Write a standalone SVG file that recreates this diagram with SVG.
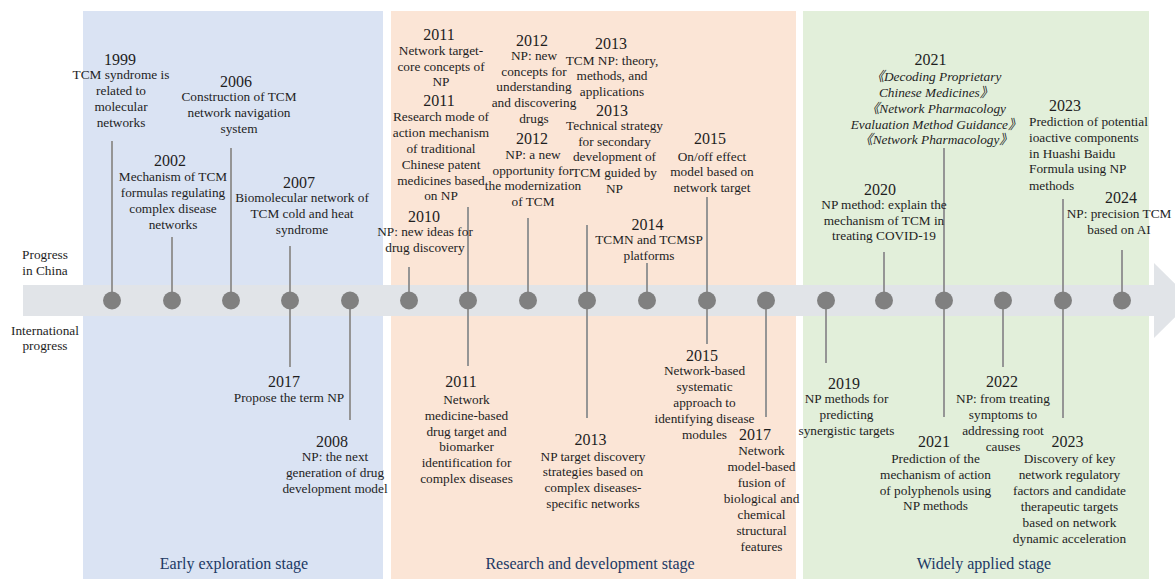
<svg xmlns="http://www.w3.org/2000/svg" width="1175" height="579" viewBox="0 0 1175 579">
<style>
text{font-family:"Liberation Serif","Noto Sans CJK SC",serif;fill:#1e1e1e;text-anchor:middle}
.yr{font-size:16px}
.ds{font-size:13.3px}
.it{font-style:italic}
.lt{text-anchor:start}
.stage{font-size:16px;fill:#203864}
.stem{stroke:#959595;stroke-width:2;fill:none}
.dot{fill:#808080}
</style>
<g id="panels">
<rect x="83" y="11" width="300" height="568" fill="#dae3f3"/>
<rect x="391" y="11" width="405" height="568" fill="#fbe5d6"/>
<rect x="803" y="11" width="346" height="568" fill="#e2efda"/>
</g>
<g id="timeline">
<rect x="23" y="285" width="1132" height="31" fill="#e1e4e8"/>
<polygon points="1154,263 1192,300.5 1154,338" fill="#e1e4e8"/>
</g>
<g id="connectors">
<line class="stem" x1="112" y1="141" x2="112" y2="300"/>
<line class="stem" x1="172" y1="237" x2="172" y2="300"/>
<line class="stem" x1="231" y1="148" x2="231" y2="300"/>
<line class="stem" x1="290" y1="246" x2="290" y2="367"/>
<line class="stem" x1="350" y1="300" x2="350" y2="420"/>
<line class="stem" x1="409" y1="267" x2="409" y2="300"/>
<line class="stem" x1="468" y1="207" x2="468" y2="366"/>
<line class="stem" x1="528" y1="218" x2="528" y2="300"/>
<line class="stem" x1="587" y1="225" x2="587" y2="418"/>
<line class="stem" x1="647" y1="263" x2="647" y2="300"/>
<line class="stem" x1="707" y1="197" x2="707" y2="344"/>
<line class="stem" x1="766" y1="300" x2="766" y2="417"/>
<line class="stem" x1="826" y1="300" x2="826" y2="363"/>
<line class="stem" x1="884" y1="252" x2="884" y2="300"/>
<line class="stem" x1="944" y1="148" x2="944" y2="417"/>
<line class="stem" x1="1003" y1="300" x2="1003" y2="367"/>
<line class="stem" x1="1063" y1="199" x2="1063" y2="418"/>
<line class="stem" x1="1122" y1="250" x2="1122" y2="300"/>
</g>
<g id="dots">
<circle class="dot" cx="112" cy="300.5" r="9"/>
<circle class="dot" cx="172" cy="300.5" r="9"/>
<circle class="dot" cx="231" cy="300.5" r="9"/>
<circle class="dot" cx="290" cy="300.5" r="9"/>
<circle class="dot" cx="350" cy="300.5" r="9"/>
<circle class="dot" cx="409" cy="300.5" r="9"/>
<circle class="dot" cx="468" cy="300.5" r="9"/>
<circle class="dot" cx="528" cy="300.5" r="9"/>
<circle class="dot" cx="587" cy="300.5" r="9"/>
<circle class="dot" cx="647" cy="300.5" r="9"/>
<circle class="dot" cx="707" cy="300.5" r="9"/>
<circle class="dot" cx="766" cy="300.5" r="9"/>
<circle class="dot" cx="826" cy="300.5" r="9"/>
<circle class="dot" cx="884" cy="300.5" r="9"/>
<circle class="dot" cx="944" cy="300.5" r="9"/>
<circle class="dot" cx="1003" cy="300.5" r="9"/>
<circle class="dot" cx="1063" cy="300.5" r="9"/>
<circle class="dot" cx="1122" cy="300.5" r="9"/>
</g>
<g id="side-labels">
<text class="ds"><tspan x="45" y="259">Progress</tspan><tspan x="45" y="275">in China</tspan></text>
<text class="ds"><tspan x="45" y="335">International</tspan><tspan x="45" y="350">progress</tspan></text>
</g>
<g id="stages">
<text class="stage" x="234" y="569">Early exploration stage</text>
<text class="stage" x="590" y="569">Research and development stage</text>
<text class="stage" x="984" y="569">Widely applied stage</text>
</g>
<g id="n1999">
<text class="yr" x="120" y="65">1999</text>
<text class="ds"><tspan x="121" y="79">TCM syndrome is</tspan><tspan x="121" y="95">related to</tspan><tspan x="121" y="111">molecular</tspan><tspan x="121" y="127">networks</tspan></text>
</g>
<g id="n2002">
<text class="yr" x="170" y="166">2002</text>
<text class="ds"><tspan x="173" y="181">Mechanism of TCM</tspan><tspan x="173" y="197">formulas regulating</tspan><tspan x="173" y="213">complex disease</tspan><tspan x="173" y="229">networks</tspan></text>
</g>
<g id="n2006">
<text class="yr" x="236" y="87">2006</text>
<text class="ds"><tspan x="239" y="101">Construction of TCM</tspan><tspan x="239" y="117">network navigation</tspan><tspan x="239" y="133">system</tspan></text>
</g>
<g id="n2007">
<text class="yr" x="299" y="188">2007</text>
<text class="ds"><tspan x="302" y="202">Biomolecular network of</tspan><tspan x="302" y="218">TCM cold and heat</tspan><tspan x="302" y="234">syndrome</tspan></text>
</g>
<g id="n2010">
<text class="yr" x="424" y="221.5">2010</text>
<text class="ds"><tspan x="425" y="235.5">NP: new ideas for</tspan><tspan x="425" y="251.5">drug discovery</tspan></text>
</g>
<g id="n2011a">
<text class="yr" x="439" y="40">2011</text>
<text class="ds"><tspan x="441" y="55">Network target-</tspan><tspan x="441" y="70.5">core concepts of</tspan><tspan x="441" y="86">NP</tspan></text>
</g>
<g id="n2011b">
<text class="yr" x="439" y="106">2011</text>
<text class="ds"><tspan x="441" y="120.5">Research mode of</tspan><tspan x="441" y="136.5">action mechanism</tspan><tspan x="441" y="152.5">of traditional</tspan><tspan x="441" y="168.5">Chinese patent</tspan><tspan x="441" y="184.5">medicines based</tspan><tspan x="441" y="200">on NP</tspan></text>
</g>
<g id="n2012a">
<text class="yr" x="532" y="45.5">2012</text>
<text class="ds"><tspan x="534" y="60">NP: new</tspan><tspan x="534" y="75.5">concepts for</tspan><tspan x="534" y="91">understanding</tspan><tspan x="534" y="107">and discovering</tspan><tspan x="534" y="123">drugs</tspan></text>
</g>
<g id="n2012b">
<text class="yr" x="532" y="144">2012</text>
<text class="ds"><tspan x="533" y="158.5">NP: a new</tspan><tspan x="533" y="174.5">opportunity for</tspan><tspan x="533" y="190">the modernization</tspan><tspan x="533" y="206">of TCM</tspan></text>
</g>
<g id="n2013a">
<text class="yr" x="611" y="49">2013</text>
<text class="ds"><tspan x="612" y="64.5">TCM NP: theory,</tspan><tspan x="612" y="80">methods, and</tspan><tspan x="612" y="95.5">applications</tspan></text>
</g>
<g id="n2013b">
<text class="yr" x="612" y="115.5">2013</text>
<text class="ds"><tspan x="614.5" y="130">Technical strategy</tspan><tspan x="614.5" y="145.5">for secondary</tspan><tspan x="614.5" y="161">development of</tspan><tspan x="614.5" y="177">TCM guided by</tspan><tspan x="614.5" y="192.5">NP</tspan></text>
</g>
<g id="n2014">
<text class="yr" x="647.5" y="229.5">2014</text>
<text class="ds"><tspan x="649" y="243.5">TCMN and TCMSP</tspan><tspan x="649" y="259.5">platforms</tspan></text>
</g>
<g id="n2015a">
<text class="yr" x="710" y="144">2015</text>
<text class="ds"><tspan x="712" y="160.5">On/off effect</tspan><tspan x="712" y="176">model based on</tspan><tspan x="712" y="192">network target</tspan></text>
</g>
<g id="n2020">
<text class="yr" x="880" y="195">2020</text>
<text class="ds"><tspan x="884" y="208.5">NP method: explain the</tspan><tspan x="884" y="224.5">mechanism of TCM in</tspan><tspan x="884" y="240">treating COVID-19</tspan></text>
</g>
<g id="n2021a">
<text class="yr" x="930.5" y="65">2021</text>
<text class="ds it"><tspan x="936" y="80.5">《Decoding Proprietary</tspan><tspan x="936" y="96.5">Chinese Medicines》</tspan><tspan x="936" y="112.5">《Network Pharmacology</tspan><tspan x="936" y="128.5">Evaluation Method Guidance》</tspan><tspan x="936" y="144">《Network Pharmacology》</tspan></text>
</g>
<g id="n2023a">
<text class="yr" x="1065" y="110.5">2023</text>
<text class="ds lt"><tspan x="1029" y="126">Prediction of potential</tspan><tspan x="1029" y="141.5">ioactive components</tspan><tspan x="1029" y="157.5">in Huashi Baidu</tspan><tspan x="1029" y="173">Formula using NP</tspan><tspan x="1029" y="189.5">methods</tspan></text>
</g>
<g id="n2024">
<text class="yr" x="1121" y="203">2024</text>
<text class="ds"><tspan x="1119" y="218">NP: precision TCM</tspan><tspan x="1119" y="234">based on AI</tspan></text>
</g>
<g id="i2017a">
<text class="yr" x="284" y="387.3">2017</text>
<text class="ds" x="289" y="401.7">Propose the term NP</text>
</g>
<g id="i2008">
<text class="yr" x="332" y="446.7">2008</text>
<text class="ds"><tspan x="335" y="460.7">NP: the next</tspan><tspan x="335" y="476.7">generation of drug</tspan><tspan x="335" y="492.7">development model</tspan></text>
</g>
<g id="i2011">
<text class="yr" x="461" y="387">2011</text>
<text class="ds"><tspan x="466.5" y="403.5">Network</tspan><tspan x="466.5" y="419.5">medicine-based</tspan><tspan x="466.5" y="435.5">drug target and</tspan><tspan x="466.5" y="451">biomarker</tspan><tspan x="466.5" y="467">identification for</tspan><tspan x="466.5" y="483">complex diseases</tspan></text>
</g>
<g id="i2013">
<text class="yr" x="590.5" y="444.5">2013</text>
<text class="ds"><tspan x="593" y="460.5">NP target discovery</tspan><tspan x="593" y="476">strategies based on</tspan><tspan x="593" y="492">complex diseases-</tspan><tspan x="593" y="508">specific networks</tspan></text>
</g>
<g id="i2015">
<text class="yr" x="702" y="360.5">2015</text>
<text class="ds"><tspan x="704.5" y="374.5">Network-based</tspan><tspan x="704.5" y="391">systematic</tspan><tspan x="704.5" y="407">approach to</tspan><tspan x="704.5" y="423">identifying disease</tspan><tspan x="704.5" y="439">modules</tspan></text>
</g>
<g id="i2017b">
<text class="yr" x="755" y="439.5">2017</text>
<text class="ds"><tspan x="761.5" y="455">Network</tspan><tspan x="761.5" y="471">model-based</tspan><tspan x="761.5" y="487">fusion of</tspan><tspan x="761.5" y="503">biological and</tspan><tspan x="761.5" y="519">chemical</tspan><tspan x="761.5" y="535">structural</tspan><tspan x="761.5" y="551">features</tspan></text>
</g>
<g id="i2019">
<text class="yr" x="844" y="389">2019</text>
<text class="ds"><tspan x="846.5" y="403">NP methods for</tspan><tspan x="846.5" y="419">predicting</tspan><tspan x="846.5" y="435">synergistic targets</tspan></text>
</g>
<g id="i2021">
<text class="yr" x="934" y="447">2021</text>
<text class="ds"><tspan x="935.5" y="462.5">Prediction of the</tspan><tspan x="935.5" y="478.5">mechanism of action</tspan><tspan x="935.5" y="494.5">of polyphenols using</tspan><tspan x="935.5" y="510">NP methods</tspan></text>
</g>
<g id="i2022">
<text class="yr" x="1002" y="387">2022</text>
<text class="ds"><tspan x="1003" y="403">NP: from treating</tspan><tspan x="1003" y="419">symptoms to</tspan><tspan x="1003" y="435">addressing root</tspan><tspan x="1003" y="451">causes</tspan></text>
</g>
<g id="i2023">
<text class="yr" x="1067.5" y="447">2023</text>
<text class="ds"><tspan x="1069.5" y="462.5">Discovery of key</tspan><tspan x="1069.5" y="478.5">network regulatory</tspan><tspan x="1069.5" y="494.5">factors and candidate</tspan><tspan x="1069.5" y="510.5">therapeutic targets</tspan><tspan x="1069.5" y="526.5">based on network</tspan><tspan x="1069.5" y="542.5">dynamic acceleration</tspan></text>
</g>
</svg>
